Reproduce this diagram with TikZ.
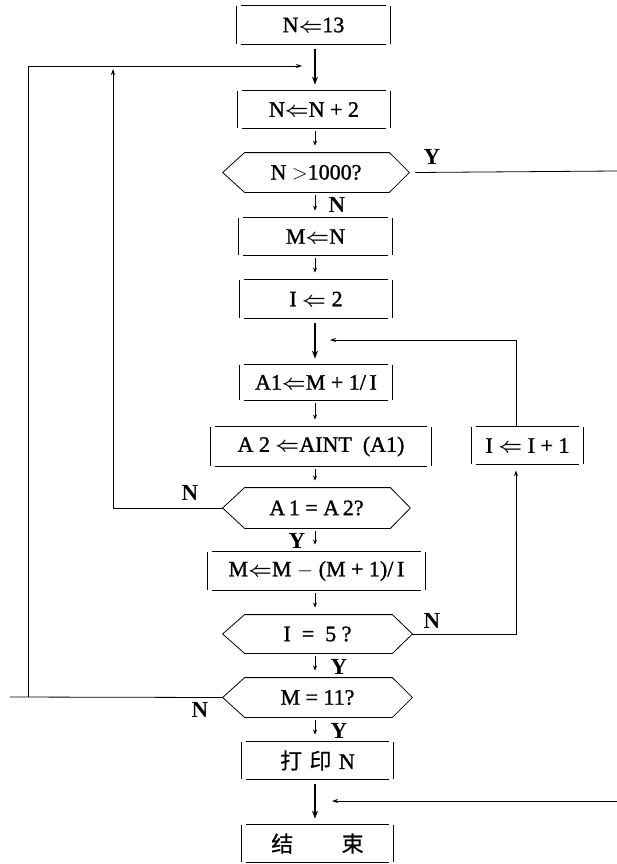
\documentclass[tikz,border=0pt]{standalone}
\usepackage{amsmath}
\usepackage{fontspec}
\setmainfont{Liberation Serif}
\newfontfamily\boxfont[FakeBold=1.2]{Liberation Serif}
\newfontfamily\cjk[FakeBold=0.6]{Noto Sans CJK SC}
\usetikzlibrary{arrows.meta}
\newcommand\dbx[1]{%
  \draw ([xshift=4pt]#1.north west) -- ([xshift=-4pt]#1.north east)
        ([xshift=4pt]#1.south west) -- ([xshift=-4pt]#1.south east);
  \draw[line width=1pt] (#1.north west) -- (#1.south west)
        (#1.north east) -- (#1.south east);}
\newcommand\hxg[1]{%
  \draw (#1.west) -- ([xshift=22pt]#1.north west) -- ([xshift=-20pt]#1.north east)
        -- (#1.east) -- ([xshift=-20pt]#1.south east) -- ([xshift=22pt]#1.south west) -- cycle;}
\newcommand\la{$\boldsymbol{\Leftarrow}$}
\begin{document}
\begin{tikzpicture}[x=1pt,y=-1pt, line width=0.8pt,
  every node/.style={font=\boxfont\fontsize{22}{24}\selectfont, inner sep=0pt},
  bx/.style={minimum width=#1, minimum height=37pt},
  hx/.style={minimum width=#1, minimum height=39pt},
  lab/.style={font=\fontsize{23}{25}\selectfont\bfseries},
  arr/.style={-{Stealth[length=5pt,width=4pt]}, shorten >=7pt, shorten <=3pt},
  harr/.style={line width=1.1pt, -{Stealth[length=8pt,width=6pt]}, shorten >=6pt, shorten <=5pt},
  larr/.style={-{Stealth[length=6pt,width=4pt]}},
]
\useasboundingbox (0,0) rectangle (617,864);
\coordinate (col) at (315,0);
% boxes
\node[bx=153pt, minimum height=38pt] (b1) at (313.5,25) {N\la13};
\node[bx=152pt] (b2) at (314,109.5) {N\la N + 2};
\node[hx=186pt] (h1) at (316,172.5) {N $>$1000?};
\node[bx=153pt] (b3) at (315.5,236.5) {M\la N};
\node[bx=152pt, minimum height=38pt] (b4) at (316,299) {I \la\ 2};
\node[bx=152pt, minimum height=35pt] (b5) at (316,382.5) {A1\la M + 1/\,I};
\node[bx=220pt, minimum height=39pt] (b6) at (321,446.5) {A 2 \la AINT\hspace{0.5em}(A1)};
\node[bx=111pt] (b7) at (527.5,445.5) {I \la\ I + 1};
\node[hx=187pt, minimum height=40pt] (h2) at (316.5,508) {A\,1 = A\,2?};
\node[bx=217pt, minimum height=38pt] (b8) at (316.5,571) {M\la M $-$ (M + 1)/\,I};
\node[hx=189pt, minimum height=38pt] (h3) at (317.5,634) {I \ = \ 5 ?};
\node[hx=189pt] (h4) at (317.5,697.5) {M = 11?};
\node[bx=151pt] (b9) at (317.5,760.5) {{\cjk 打\,\,印}\,\,N};
\node[bx=151pt] (b10) at (317.5,843.5) {{\cjk 结\hspace{2.2em}束}};
\foreach \n in {b1,b2,b3,b4,b5,b6,b7,b8,b9,b10} {\dbx{\n}}
\foreach \n in {h1,h2,h3,h4} {\hxg{\n}}
% main column arrows
\draw[harr] (b1.south -| col) -- (b2.north -| col);
\draw[arr] (b2.south -| col) -- (h1.north -| col);
\draw[arr] (h1.south -| col) -- (b3.north -| col);
\draw[arr] (b3.south -| col) -- (b4.north -| col);
\draw[harr] (b4.south -| col) -- (b5.north -| col);
\draw[arr] (b5.south -| col) -- (b6.north -| col);
\draw[arr] (b6.south -| col) -- (h2.north -| col);
\draw[arr] (h2.south -| col) -- (b8.north -| col);
\draw[arr] (b8.south -| col) -- (h3.north -| col);
\draw[arr] (h3.south -| col) -- (h4.north -| col);
\draw[arr] (h4.south -| col) -- (b9.north -| col);
\draw[harr] (b9.south -| col) -- (b10.north -| col);
% labels on main column
\node[lab] (ln1) at (337,205) {N};
\node[lab] (ly2) at (297,541) {Y};
\node[lab] (ly3) at (339,667) {Y};
\node[lab] (ly4) at (339,731) {Y};
% Y exit of h1
\node[lab] (ly1) at (432,157) {Y};
\coordinate (ey) at (617,171);
\draw ([xshift=6pt]h1.east) -- (ey);
\coordinate (ein) at (617,801);
\coordinate (etip) at (332,801);
\draw[larr] (ein) -- (etip);
% right loop I = I + 1
\node[lab] (ln3) at (432,621) {N};
\coordinate (r1) at (516,634);
\coordinate (r2) at (516,340);
\coordinate (rtip) at (330,340);
\draw[larr, shorten >=6pt] (h3.east) -- (r1) -- (b7.south -| r1);
\draw[larr] (b7.north -| r1) -- (r2) -- (rtip);
% inner left loop
\node[lab] (ln2) at (190,493) {N};
\coordinate (l1) at (113,508);
\coordinate (l2) at (113,69);
\draw[larr] (h2.west) -- (l1) -- (l2);
% outer left loop
\node[lab] (ln4) at (200,710) {N};
\coordinate (o0) at (10,697);
\coordinate (o1) at (28,697);
\coordinate (o2) at (28,66);
\coordinate (otip) at (302,66);
\draw (h4.west) -- (o0);
\draw[larr] (o1) -- (o2) -- (otip);
\end{tikzpicture}
\end{document}
